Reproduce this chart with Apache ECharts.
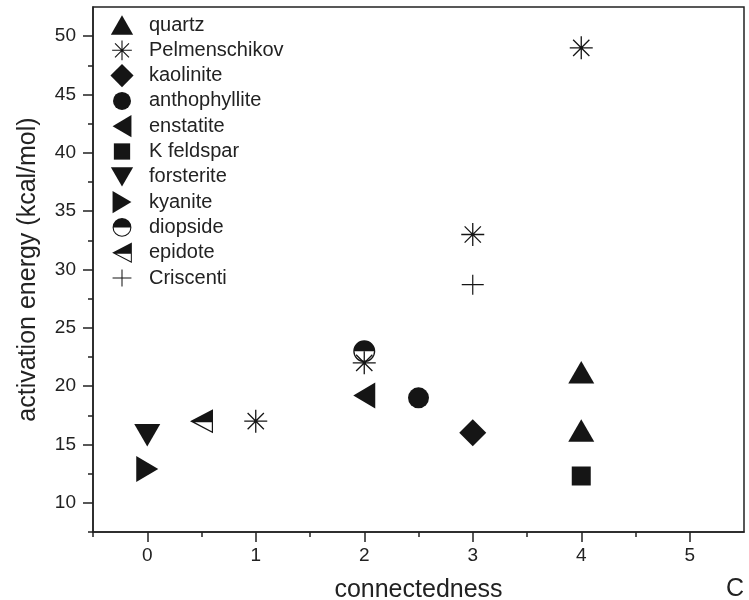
<!DOCTYPE html>
<html>
<head>
<meta charset="utf-8">
<script src="https://cdn.jsdelivr.net/npm/echarts@6/dist/echarts.min.js"></script>
<style>
html,body{margin:0;padding:0;background:#fff;}
#chart{width:749px;height:600px;}
</style>
</head>
<body>
<div id="chart"></div>
<script>
// ---------- data ----------
const seriesNames = ['quartz','Pelmenschikov','kaolinite','anthophyllite','enstatite','K feldspar','forsterite','kyanite','diopside','epidote','Criscenti'];
const quartzData = [[4, 21.2], [4, 16.2]];
const pelmenschikovData = [[1, 17.0], [2, 22.0], [3, 33.0], [4, 49.0]];
const kaoliniteData = [[3, 16.0]];
const anthophylliteData = [[2.5, 19.0]];
const enstatiteData = [[2, 19.2]];
const kFeldsparData = [[4, 12.3]];
const forsteriteData = [[0, 15.8]];
const kyaniteData = [[0, 12.9]];
const diopsideData = [[2, 23.0]];
const epidoteData = [[0.5, 17.0]];
const criscentiData = [[3, 28.7]];

const xMajorTicks = [0, 1, 2, 3, 4, 5];
const xMinorTicks = [-0.5, 0.5, 1.5, 2.5, 3.5, 4.5];
const yMajorTicks = [10, 15, 20, 25, 30, 35, 40, 45, 50];
const yMinorTicks = [7.5, 12.5, 17.5, 22.5, 27.5, 32.5, 37.5, 42.5, 47.5];

// ---------- symbol geometry (common 28x28 box) ----------
const BOX = 'M-14,-14M14,14';
function f(n){ return (Math.round(n*1000)/1000).toString(); }
function bar(theta, r, w){
  const dx = Math.cos(theta), dy = Math.sin(theta);
  const nx = -dy, ny = dx;
  const p = [
    [ r*dx + w*nx,  r*dy + w*ny],
    [-r*dx + w*nx, -r*dy + w*ny],
    [-r*dx - w*nx, -r*dy - w*ny],
    [ r*dx - w*nx,  r*dy - w*ny]
  ];
  return 'M' + p.map(q => f(q[0]) + ',' + f(q[1])).join('L') + 'Z';
}
const symAsterisk = 'path://' + BOX + [0, Math.PI/4, Math.PI/2, 3*Math.PI/4].map(t => bar(t, 11.5, 0.65)).join('');
const symPlus = 'path://' + BOX + bar(0, 11, 0.6) + bar(Math.PI/2, 10, 0.6);
const symUp = 'path://' + BOX + 'M0,-11.25L13,11.25L-13,11.25Z';
const symDown = 'path://' + BOX + 'M0,11.25L13,-11.25L-13,-11.25Z';
const symLeft = 'path://' + BOX + 'M-11,0L11,-13L11,13Z';
const symRight = 'path://' + BOX + 'M11,0L-11,-13L-11,13Z';
const symCircle = 'path://' + BOX + 'M-10.5,0A10.5,10.5 0 1 1 10.5,0A10.5,10.5 0 1 1 -10.5,0Z';
const symSquare = 'path://' + BOX + 'M-9.5,-9.5L9.5,-9.5L9.5,9.5L-9.5,9.5Z';
const symDiamond = 'path://' + BOX + 'M0,-13.5L13.5,0L0,13.5L-13.5,0Z';
const symHalfCircle = 'path://' + BOX + 'M-11,0A11,11 0 0 1 11,0Z' +
  'M11,0A11,11 0 0 1 -11,0L-9.7,0A9.7,9.7 0 0 0 9.7,0Z';
const symHalfLeft = 'path://' + BOX + 'M-11.5,0L11.5,-12L11.5,0Z' +
  'M-11.5,0L11.5,0L11.5,12Z' + 'M-6.6,1.2L10.3,10.02L10.3,1.2Z';

const INK = '#151515';
const TEXT = '#222';
const FONT = '"Liberation Sans", Arial, Helvetica, sans-serif';

function mk(name, data, symbol){
  return {
    name: name, type: 'scatter', data: data, symbol: symbol, symbolSize: 28,
    itemStyle: { color: INK, opacity: 1, borderWidth: 0 },
    emphasis: { disabled: true }, z: 3
  };
}

const series = [
  mk(seriesNames[0], quartzData, symUp),
  mk(seriesNames[1], pelmenschikovData, symAsterisk),
  mk(seriesNames[2], kaoliniteData, symDiamond),
  mk(seriesNames[3], anthophylliteData, symCircle),
  mk(seriesNames[4], enstatiteData, symLeft),
  mk(seriesNames[5], kFeldsparData, symSquare),
  mk(seriesNames[6], forsteriteData, symDown),
  mk(seriesNames[7], kyaniteData, symRight),
  mk(seriesNames[8], diopsideData, symHalfCircle),
  mk(seriesNames[9], epidoteData, symHalfLeft),
  mk(seriesNames[10], criscentiData, symPlus)
];

const chart = echarts.init(document.getElementById('chart'), null, { renderer: 'canvas' });
chart.setOption({
  animation: false,
  backgroundColor: '#fff',
  textStyle: { fontFamily: FONT, color: TEXT },
  grid: {
    left: 93, right: 5, top: 7, bottom: 68,
    show: true, borderColor: TEXT, borderWidth: 1.5, backgroundColor: 'transparent',
    containLabel: false, outerBoundsMode: 'none'
  },
  legend: {
    orient: 'vertical', left: 105, top: 8,
    itemWidth: 44, itemHeight: 24, itemGap: 1.3,
    selectedMode: false,
    data: seriesNames,
    textStyle: { fontSize: 20, color: TEXT, fontFamily: FONT },
    itemStyle: { borderWidth: 0 }
  },
  xAxis: [
    {
      type: 'value', min: -0.5, max: 5.5, position: 'bottom',
      name: 'connectedness', nameLocation: 'middle', nameGap: 46,
      nameTextStyle: { fontSize: 25, color: TEXT, fontFamily: FONT },
      axisLine: { show: true, onZero: false, lineStyle: { color: TEXT, width: 1.5 } },
      axisTick: { show: true, inside: false, length: 10, customValues: xMajorTicks, lineStyle: { color: TEXT, width: 1.5 } },
      axisLabel: { show: true, customValues: xMajorTicks, fontSize: 19, margin: 14, color: TEXT, fontFamily: FONT },
      splitLine: { show: false }
    },
    {
      type: 'value', min: -0.5, max: 5.5, position: 'bottom',
      axisLine: { show: false, onZero: false },
      axisTick: { show: true, inside: false, length: 5, customValues: xMinorTicks, lineStyle: { color: TEXT, width: 1.5 } },
      axisLabel: { show: false },
      splitLine: { show: false }
    }
  ],
  yAxis: [
    {
      type: 'value', min: 7.5, max: 52.5, position: 'left',
      name: 'activation energy (kcal/mol)', nameLocation: 'middle', nameGap: 52,
      nameTextStyle: { fontSize: 25, color: TEXT, fontFamily: FONT },
      axisLine: { show: true, onZero: false, lineStyle: { color: TEXT, width: 1.5 } },
      axisTick: { show: true, inside: false, length: 10, customValues: yMajorTicks, lineStyle: { color: TEXT, width: 1.5 } },
      axisLabel: { show: true, customValues: yMajorTicks, fontSize: 19, margin: 17, color: TEXT, fontFamily: FONT },
      splitLine: { show: false }
    },
    {
      type: 'value', min: 7.5, max: 52.5, position: 'left',
      axisLine: { show: false, onZero: false },
      axisTick: { show: true, inside: false, length: 5, customValues: yMinorTicks, lineStyle: { color: TEXT, width: 1.5 } },
      axisLabel: { show: false },
      splitLine: { show: false }
    }
  ],
  graphic: [
    { type: 'text', left: 726, top: 577, style: { text: 'C', fontSize: 25, fill: TEXT, fontFamily: FONT } }
  ],
  series: series
});
</script>
</body>
</html>
